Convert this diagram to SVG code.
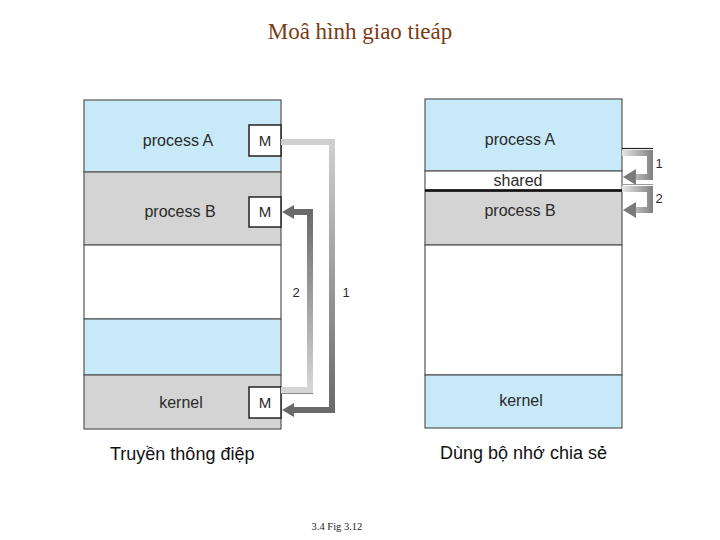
<svg xmlns="http://www.w3.org/2000/svg" width="720" height="540" viewBox="0 0 720 540">
<style>
.t{font-family:"Liberation Sans",Arial,sans-serif;fill:#2a2a2a}
.lb{font-size:16px;text-anchor:middle}
.m{font-size:15px;text-anchor:middle}
.blue{fill:#c8e9f8;stroke:#555;stroke-width:1.2}
.gray{fill:#d4d4d4;stroke:#555;stroke-width:1.2}
.white{fill:#fff;stroke:#555;stroke-width:1.2}
.mb{fill:#fff;stroke:#222;stroke-width:1.5}
.arr{fill:none;stroke-width:6;stroke-linejoin:miter}
.cap{font-family:"Liberation Sans",Arial,sans-serif;font-size:18px;fill:#111}
</style>
<defs>
<linearGradient id="g1" gradientUnits="userSpaceOnUse" x1="0" y1="142" x2="0" y2="410"><stop offset="0" stop-color="#cfcfcf"/><stop offset="1" stop-color="#6a6a6a"/></linearGradient>
<linearGradient id="g2" gradientUnits="userSpaceOnUse" x1="0" y1="390" x2="0" y2="212"><stop offset="0" stop-color="#d6d6d6"/><stop offset="1" stop-color="#6a6a6a"/></linearGradient>
<linearGradient id="g3" gradientUnits="userSpaceOnUse" x1="622" y1="0" x2="655" y2="0"><stop offset="0" stop-color="#e6e6e6"/><stop offset="1" stop-color="#7a7a7a"/></linearGradient>
</defs>
<text x="360" y="39" font-family="'Liberation Serif','Times New Roman',serif" font-size="23" fill="#7b3a12" text-anchor="middle">Moâ hình giao tieáp</text>

<g id="left-memory">
<rect class="blue" x="84" y="100" width="197" height="72"/>
<rect class="gray" x="84" y="172" width="197" height="73"/>
<rect class="white" x="84" y="245" width="197" height="74"/>
<rect class="blue" x="84" y="319" width="197" height="56"/>
<rect class="gray" x="84" y="375" width="197" height="54"/>
</g>
<g id="left-processA"><text class="t lb" x="178" y="146">process A</text></g>
<g id="left-processB"><text class="t lb" x="180" y="217">process B</text></g>
<g id="left-kernel"><text class="t lb" x="181" y="408">kernel</text></g>
<g id="mA"><rect class="mb" x="249" y="125" width="32" height="31"/><text class="t m" x="265" y="146">M</text></g>
<g id="mB"><rect class="mb" x="249" y="197" width="32" height="30"/><text class="t m" x="265" y="217">M</text></g>
<g id="mK"><rect class="mb" x="249" y="387" width="32" height="31"/><text class="t m" x="265" y="408">M</text></g>

<g id="right-memory">
<rect class="blue" x="425" y="99" width="197" height="72"/>
<rect class="white" x="425" y="171" width="197" height="19"/>
<rect class="gray" x="425" y="191" width="197" height="54"/>
<line x1="425" y1="190.5" x2="622" y2="190.5" stroke="#111" stroke-width="2.5"/>
<rect class="white" x="425" y="245" width="197" height="130"/>
<rect class="blue" x="425" y="375" width="197" height="53"/>
</g>
<g id="right-processA"><text class="t lb" x="520" y="145">process A</text></g>
<g id="right-shared"><text class="t lb" x="518" y="186">shared</text></g>
<g id="right-processB"><text class="t lb" x="520" y="216">process B</text></g>
<g id="right-kernel"><text class="t lb" x="521" y="406">kernel</text></g>

<g id="connectors">
<path class="arr" stroke="url(#g1)" d="M281 142 H332 V410 H292"/>
<polygon points="282,410 294,403 294,417" fill="#6a6a6a"/>
<path class="arr" stroke="url(#g2)" d="M281 390 H310 V212 H292"/>
<polygon points="282,212 294,205 294,219" fill="#6a6a6a"/>
<line x1="281" y1="393.5" x2="313" y2="393.5" stroke="#888" stroke-width="1"/>
<text class="t" x="296" y="297" font-size="13" text-anchor="middle">2</text>
<text class="t" x="346" y="297" font-size="13" text-anchor="middle">1</text>

<line x1="622" y1="148.5" x2="653" y2="148.5" stroke="#222" stroke-width="1.2"/>
<path class="arr" stroke="url(#g3)" stroke-width="7" d="M622 153 H650 V177 H634"/>
<polygon points="623,177 636,169 636,185" fill="#7a7a7a"/>
<line x1="622" y1="184.5" x2="653" y2="184.5" stroke="#999" stroke-width="1"/>
<path class="arr" stroke="url(#g3)" stroke-width="7" d="M622 189 H650 V210 H634"/>
<polygon points="623,210 636,202 636,218" fill="#7a7a7a"/>
<text class="t" x="659" y="168" font-size="13" text-anchor="middle">1</text>
<text class="t" x="659" y="203" font-size="13" text-anchor="middle">2</text>
</g>

<text class="cap" x="110" y="460">Truyền thông điệp</text>
<text class="cap" x="440" y="459">Dùng bộ nhớ chia sẻ</text>
<text x="337" y="530" font-family="'Liberation Serif',serif" font-size="10.5" fill="#222" text-anchor="middle">3.4 Fig 3.12</text>
</svg>
